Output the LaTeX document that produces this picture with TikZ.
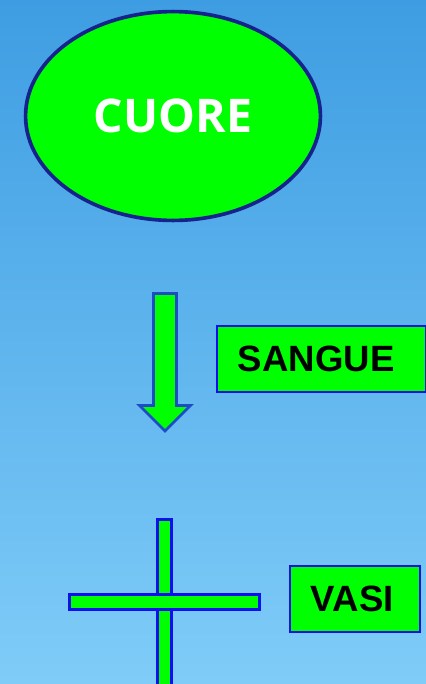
\documentclass[tikz,border=0pt]{standalone}
\usepackage{fontspec}
\setmainfont{Liberation Sans}
\newfontfamily\cuorefont{Open Sans}
\usetikzlibrary{shapes.geometric}

\definecolor{sfondoalto}{RGB}{62,157,226}
\definecolor{sfondobasso}{RGB}{127,204,248}
\definecolor{verde}{RGB}{0,255,0}
\definecolor{bordoblu}{RGB}{15,15,240}
\definecolor{bordoscuro}{RGB}{22,35,140}
\definecolor{bordofreccia}{RGB}{30,75,200}

\begin{document}
\begin{tikzpicture}[x=0.025cm,y=-0.025cm,
		main node/.style = {ellipse,draw=bordoscuro,fill=verde,line width=2.6pt,inner sep=0pt,
			minimum width=7.37cm,minimum height=5.22cm,text=white,font=\cuorefont\bfseries\fontsize{33}{40}\selectfont},
		label box/.style = {rectangle,draw=bordoblu,fill=verde,line width=1.4pt,inner xsep=0.525cm,inner ysep=0pt,
			align=left,minimum height=1.65cm,font=\bfseries\fontsize{26}{30}\selectfont},
		bar/.style = {draw=bordoblu,fill=verde,line width=2pt}]
		
		\shade[top color=sfondoalto,bottom color=sfondobasso] (0,0) rectangle (426,684);
		\useasboundingbox (0,0) rectangle (426,684);
		
		\node[main node] (cuore) at (173,116) {CUORE};
		\node[label box,text width=4.175cm,anchor=north west] (sangue) at (216,325) {SANGUE};
		\node[label box,text width=2.2cm,anchor=north west] (vasi) at (289,565) {VASI};
		
		% freccia
		\draw[draw=bordofreccia,fill=verde,line width=2pt,line join=miter]
		(153.5,293.5) -- (176.5,293.5) -- (176.5,405.5) -- (190.5,405.5) -- (165,431)
		-- (139.5,405.5) -- (153.5,405.5) -- cycle;
		
		% croce
		\draw[bar] (157.5,519.5) rectangle (171.5,690);
		\draw[bar] (69.5,594.5) rectangle (259.5,609.5);
		\end{tikzpicture}
\end{document}
